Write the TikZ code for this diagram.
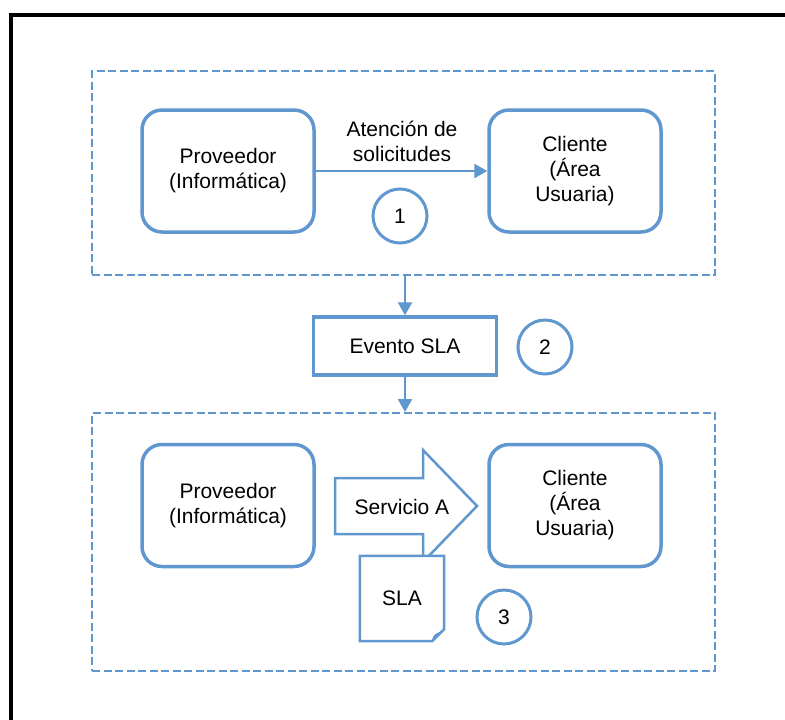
\documentclass[tikz,border=0pt]{standalone}
\usepackage{fontspec}
\setmainfont{Liberation Sans}
\usetikzlibrary{arrows.meta,calc}
\definecolor{accent}{RGB}{95,151,206}
\begin{document}
\begin{tikzpicture}[x=1pt,y=-1pt,
  every node/.style={font=\fontsize{21}{25}\selectfont, inner sep=0pt, align=center},
  party/.style={draw=accent, line width=3.5pt, rounded corners=20pt,
    minimum width=172pt, minimum height=122pt},
  zone/.style={draw=accent, line width=2pt, dash pattern=on 8pt off 3.5pt,
    minimum width=623pt, minimum height=#1},
  eventbox/.style={draw=accent, line width=3.5pt, minimum width=183pt, minimum height=58pt},
  stepnum/.style={draw=accent, line width=3pt, circle, minimum size=54pt},
  flow/.style={draw=accent, line width=2.5pt,
    -{Triangle[length=13pt,width=14pt]}},
  outlined/.style={draw=accent, line width=2.5pt, fill=white, line join=miter}
]
\useasboundingbox (0,0) rectangle (785,720);
\clip (0,0) rectangle (785,720);

% outer frame (runs off the right and bottom edges)
\draw[line width=4pt] (11,760) -- (11,15) -- (820,15);

% upper zone: request handling
\node[zone=204pt] (zoneA) at (403.5,173) {};
\node[party] (provA) at (228,171) {Proveedor\\(Informática)};
\node[party] (cliA) at (575,171) {Cliente\\(Área\\Usuaria)};
\draw[flow] (provA.east) -- (cliA.west);
\node (lbl) at (402,141) {Atención de\\solicitudes};
\node[stepnum] (n1) at (400,216) {1};

% SLA event
\node[eventbox] (evt) at (405,346) {Evento SLA};
\node[stepnum] (n2) at (545,347) {2};

% lower zone: service under SLA
\node[zone=258pt] (zoneB) at (403.5,542) {};
\draw[flow] (evt.north |- zoneA.south) -- (evt.north);
\draw[flow] (evt.south) -- (evt.south |- zoneB.north);

\node[party] (provB) at (228,505.5) {Proveedor\\(Informática)};
\node[party] (cliB) at (575,505.5) {Cliente\\(Área\\Usuaria)};

% block arrow carrying the service
\coordinate (sa1) at (335,478);
\coordinate (sa2) at (423,478);
\coordinate (sa3) at (423,450);
\coordinate (sa4) at (477,506);
\coordinate (sa5) at (423,562);
\coordinate (sa6) at (423,534);
\coordinate (sa7) at (335,534);
\draw[outlined] (sa1) -- (sa2) -- (sa3) -- (sa4) -- (sa5) -- (sa6) -- (sa7) -- cycle;
\node (svc) at (402,507) {Servicio A};

% SLA document with folded corner
\node[minimum width=84pt, minimum height=85pt] (sla) at (402,598.5) {};
\draw[outlined] (sla.north west) -- (sla.north east)
  -- ($(sla.south east)+(0,-12)$) -- ($(sla.south east)+(-12,0)$)
  -- (sla.south west) -- cycle;
\filldraw[accent, line width=1pt, line join=round]
  ($(sla.south east)+(-12,0)$) .. controls ($(sla.south east)+(-10,-6)$) .. ($(sla.south east)+(-6,-8)$)
  .. controls ($(sla.south east)+(-4,-9)$) .. ($(sla.south east)+(0,-12)$) -- cycle;
\node (slatext) at (sla) {SLA};

\node[stepnum] (n3) at (504,617) {3};
\end{tikzpicture}
\end{document}
